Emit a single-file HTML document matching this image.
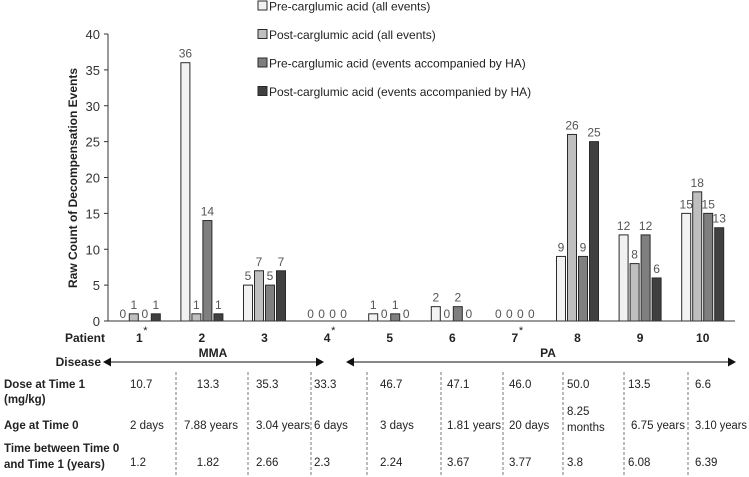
<!DOCTYPE html>
<html><head><meta charset="utf-8"><style>
body{margin:0;background:#fff;}
svg{display:block;font-family:"Liberation Sans",Arial,sans-serif;}
</style></head><body>
<svg id="chart" width="749" height="477" viewBox="0 0 749 477"></svg>
<script>
const patients=["1","2","3","4","5","6","7","8","9","10"];
const starred=[true,false,false,true,false,false,true,false,false,false];
const preAll=[0,36,5,0,1,2,0,9,12,15];
const postAll=[1,1,7,0,0,0,0,26,8,18];
const preHA=[0,14,5,0,1,2,0,9,12,15];
const postHA=[1,1,7,0,0,0,0,25,6,13];
const seriesNames=["Pre-carglumic acid (all events)","Post-carglumic acid (all events)","Pre-carglumic acid (events accompanied by HA)","Post-carglumic acid (events accompanied by HA)"];
const yTicks=[0,5,10,15,20,25,30,35,40];
const doses=["10.7","13.3","35.3","33.3","46.7","47.1","46.0","50.0","13.5","6.6"];
const ages=["2 days","7.88 years","3.04 years","6 days","3 days","1.81 years","20 days","8.25 months","6.75 years","3.10 years"];
const times=["1.2","1.82","2.66","2.3","2.24","3.67","3.77","3.8","6.08","6.39"];

const NS="http://www.w3.org/2000/svg";
const svg=document.getElementById('chart');
function mk(t,a,txt){const e=document.createElementNS(NS,t);for(const k in a)e.setAttribute(k,a[k]);if(txt!==undefined)e.textContent=txt;svg.appendChild(e);return e;}
const X0=108,CW=62.6,Y0=321,PX=7.175;
const x=i=>X0+CW*(i+0.5);
const y=v=>Y0-v*PX;
const series=[preAll,postAll,preHA,postHA];
const colors=["#f2f2f2","#bfbfbf","#7f7f7f","#404040"];
const keys=["pre-all","post-all","pre-ha","post-ha"];

let e=mk('line',{x1:X0,y1:y(40),x2:X0,y2:Y0,stroke:'#333','stroke-width':1});

yTicks.forEach(t=>{
  let l=mk('line',{x1:X0-4,y1:y(t),x2:X0,y2:y(t),stroke:'#333'});
  
  let tx=mk('text',{x:X0-8,y:y(t)+5,'text-anchor':'end','font-size':13,fill:'#333'},t);
  
});
e=mk('text',{x:0,y:0,transform:'translate(77,178) rotate(-90)','text-anchor':'middle','font-size':12,'font-weight':'bold',fill:'#222'},'Raw Count of Decompensation Events');


patients.forEach((p,i)=>{
  series.forEach((s,k)=>{
    const bx=x(i)-21+k*11, v=s[i];
    if(v>0){
      let r=mk('rect',{x:bx,y:y(v),width:9,height:Y0-y(v),fill:colors[k],stroke:'#2a2a2a','stroke-width':1});
      
    }
    let lbl=mk('text',{x:bx+4.5,y:v===0?y(0)-3:y(v)-5,'text-anchor':'middle','font-size':12,fill:'#555'},v);
    
  });
});
e=mk('line',{x1:X0,y1:Y0,x2:735,y2:Y0,stroke:'#333','stroke-width':1});


seriesNames.forEach((n,k)=>{
  const ly=6+k*28.5;
  let r=mk('rect',{x:258,y:ly-5,width:9,height:9,fill:colors[k],stroke:'#2a2a2a'});
  
  let t=mk('text',{x:269,y:ly+4.5,'font-size':12,fill:'#222'},n);
  
});

function lab(xx,yy,txt,name,opts){let t=mk('text',Object.assign({x:xx,y:yy,'font-size':11.5,fill:'#222'},opts||{}),txt);return t;}
lab(105,342,'Patient','patient-row-label',{'text-anchor':'end','font-weight':'bold','font-size':12});
patients.forEach((p,i)=>{
  lab(x(i),342,p,'patient-label',{'text-anchor':'middle','font-weight':'bold','font-size':12});
  if(starred[i]) lab(x(i)+4,334,'*','asterisk',{'font-size':11});
});
lab(101,366,'Disease','disease-row-label',{'text-anchor':'end','font-weight':'bold','font-size':12});
function arrow(x1,x2,yy,name){
  let l=mk('line',{x1:x1+6,y1:yy,x2:x2-6,y2:yy,stroke:'#111','stroke-width':1});
  
  let a=mk('polygon',{points:`${x1},${yy} ${x1+8},${yy-4.5} ${x1+8},${yy+4.5}`,fill:'#111'});
  
  let b=mk('polygon',{points:`${x2},${yy} ${x2-8},${yy-4.5} ${x2-8},${yy+4.5}`,fill:'#111'});
  
}
arrow(103,324,362,'mma-arrow');
arrow(346,736,362,'pa-arrow');
lab(213,357,'MMA','mma-label',{'text-anchor':'middle','font-weight':'bold','font-size':12});
lab(548,357,'PA','pa-label',{'text-anchor':'middle','font-weight':'bold','font-size':12});
lab(4,388,'Dose at Time 1','dose-row-label',{'font-weight':'bold'});
lab(4,403,'(mg/kg)','dose-row-unit',{'font-weight':'bold'});
lab(4,429,'Age at Time 0','age-row-label',{'font-weight':'bold'});
lab(4,452,'Time between Time 0','time-row-label',{'font-weight':'bold'});
lab(4,468,'and Time 1 (years)','time-row-label-2',{'font-weight':'bold'});
const divs=[176,248,311,367,441,503,563,624,688];
divs.forEach(d=>{let l=mk('line',{x1:d,y1:372,x2:d,y2:477,stroke:'#777','stroke-dasharray':'3,2'});});
const colX=[130,190,256,314,380,447,509,567,628,695];
const centered=[false,true,false,false,false,false,false,false,false,false];
patients.forEach((p,i)=>{
  const o=centered[i]?{'text-anchor':'middle'}:{};
  const cx=centered[i]?208:colX[i];
  lab(cx,388,doses[i],'dose-value',o);
  if(ages[i]==='8.25 months'){lab(colX[i],415,'8.25','age-value');lab(colX[i],431,'months','age-value-2');}
  else if(i===1) lab(211,429,ages[i],'age-value',{'text-anchor':'middle','textLength':54,'lengthAdjust':'spacingAndGlyphs'});
  else if(/years/.test(ages[i])) lab(i===8?631:colX[i],429,ages[i],'age-value',{'textLength':i===9?52:54,'lengthAdjust':'spacingAndGlyphs'});
  else lab(colX[i],429,ages[i],'age-value');
  lab(cx,466,times[i],'time-value',o);
});
</script>
</body></html>
